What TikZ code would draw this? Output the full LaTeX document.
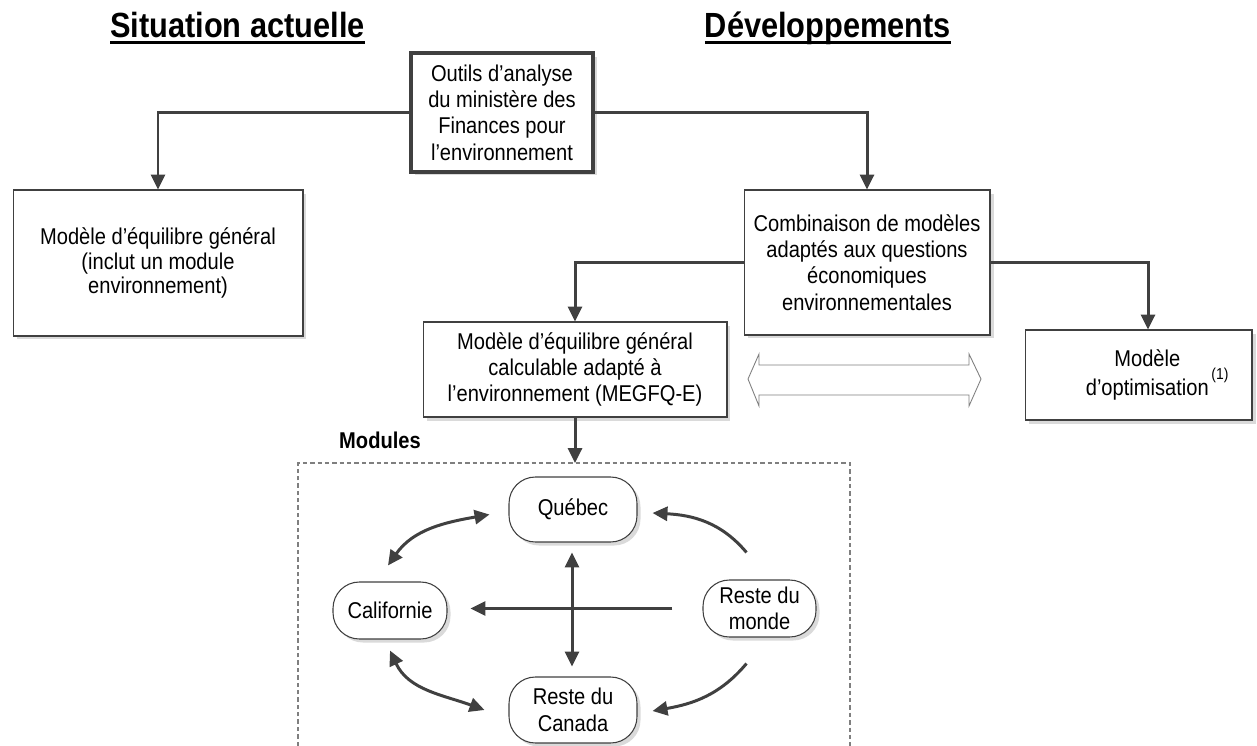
\documentclass[tikz,border=0pt]{standalone}
\usepackage{fontspec}
\setmainfont{Liberation Sans}[FakeStretch=0.88]
\usetikzlibrary{arrows.meta,calc,shadows}

\definecolor{lineGray}{HTML}{404040}
\definecolor{shadowGray}{HTML}{DADADA}
\definecolor{dashGray}{HTML}{7F7F7F}

\newcommand\titleRule[1]{\setbox0\hbox{#1}\rlap{\rule[-3.6pt]{\wd0}{1.7pt}}\box0}

\tikzset{
    box/.style={draw=lineGray, line width=0.6pt, fill=white, align=center, inner sep=0pt,
        font=\fontsize{13}{15}\selectfont,
        drop shadow={shadow xshift=2pt, shadow yshift=-2pt, fill=shadowGray, opacity=1}},
    module/.style={box, rounded corners=15pt},
    arr/.style={draw=lineGray, line width=1.7pt, -{Triangle[length=8.5pt,width=8pt]}},
    biarr/.style={arr, {Triangle[length=8.5pt,width=8pt]}-{Triangle[length=8.5pt,width=8pt]}},
}

\begin{document}
\begin{tikzpicture}[x=0.02cm, y=-0.02cm]

        \useasboundingbox (0,0) rectangle (1257,746);

        \def\titleFont{\fontsize{19.9}{22}\selectfont\bfseries}

        % titles
        \node[anchor=base, font=\titleFont] (actuelTitle) at (237.5,38) {\titleRule{Situation actuelle}};
        \node[anchor=base, font=\titleFont] (devTitle) at (828,38) {\titleRule{Développements}};

        % main boxes
        \node[box, line width=2.2pt, minimum width=3.64cm, minimum height=2.38cm] (outils) at (502,112.5)
            {Outils d’analyse\\du ministère des\\Finances pour\\l’environnement};
        \node[box, minimum width=5.8cm, minimum height=2.92cm, font=\fontsize{13}{13.9}\selectfont] (actuel) at (158,263)
            {Modèle d’équilibre général\\(inclut un module\\environnement)};
        \node[box, minimum width=4.92cm, minimum height=2.9cm] (combi) at (867,262.5)
            {Combinaison de modèles\\adaptés aux questions\\économiques\\environnementales};
        \node[box, minimum width=6.08cm, minimum height=1.9cm] (megfq) at (575,369.5)
            {Modèle d’équilibre général\\calculable adapté à\\l’environnement (MEGFQ-E)};
        \node[box, minimum width=4.54cm, minimum height=1.8cm] (optim) at (1138.5,375)
            {\hspace*{10pt}Modèle\\\hspace*{10pt}d’optimisation\rlap{\hspace{1.5pt}\raisebox{9pt}{\fontsize{9}{9}\selectfont(1)}}};

        % connectors
        \draw[arr] (outils.west) -| (actuel.north);
        \draw[arr] (outils.east) -| (combi.north);
        \draw[arr] (combi.west) -| (megfq.north);
        \draw[arr] (combi.east) -| ($(optim.north)+(9.5,0)$);

        % hollow double arrow
        \draw[dashGray, line width=0.5pt, fill=white]
            (748,379) -- (759,354) -- (759,365) -- (969,365) -- (969,354) -- (981,379)
            -- (969,406) -- (969,395) -- (759,395) -- (759,406) -- cycle;

        % modules frame
        \node[font=\fontsize{13}{14}\selectfont\bfseries] (modLabel) at (380,440) {Modules};
        \draw[dashGray, line width=0.6pt, dash pattern=on 2.5pt off 1.7pt]
            (298,746) -- (298,463) -- (850,463) -- (850,746);
        \coordinate (modTop) at (575,463);
        \draw[arr] (megfq.south) -- (modTop);

        % modules
        \node[module, minimum width=2.56cm, minimum height=1.3cm] (quebec) at (573,509.5) {Québec};
        \node[module, minimum width=2.28cm, minimum height=1.14cm] (calif) at (390,610.5) {Californie};
        \node[module, minimum width=2.26cm, minimum height=1.14cm] (monde) at (759.5,608.5) {Reste du\\monde};
        \node[module, minimum width=2.56cm, minimum height=1.32cm] (canada) at (573,710) {Reste du\\Canada};

        % flows between modules
        \draw[biarr] ($(quebec.west)+(-19,5)$) to[out=190,in=55] ($(calif.north)+(-2,-16)$);
        \draw[biarr] ($(calif.south)+(0,11)$) to[out=-65,in=160] ($(canada.west)+(-24,0)$);
        \draw[arr] ($(monde.north)+(-13,-27)$) to[out=130,in=-3] ($(quebec.east)+(15,3.5)$);
        \draw[arr] ($(monde.south)+(-13,26)$) to[out=-130,in=10] ($(canada.east)+(15,1)$);
        \draw[arr] ($(monde.west)+(-30,0)$) -- ($(calif.east |- monde.west)+(23,0)$);
        \draw[biarr] ($(quebec.south)+(-1,10)$) -- ($(canada.north)+(-1,-10)$);

\end{tikzpicture}
\end{document}
